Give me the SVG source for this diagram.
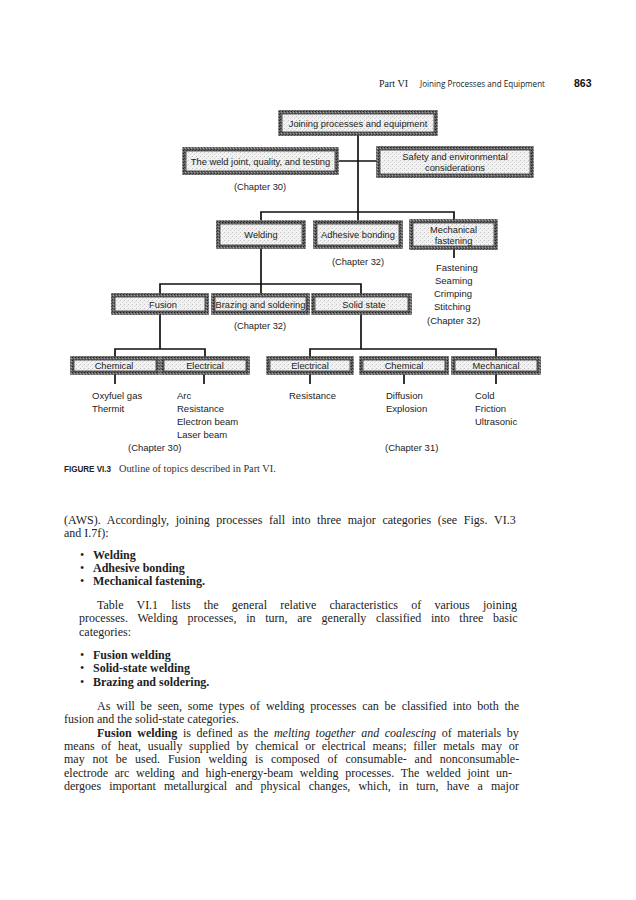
<svg xmlns="http://www.w3.org/2000/svg" width="636" height="900" viewBox="0 0 636 900">
<style>
.bg{fill:#ffffff}
.frame{fill:url(#fillpat);stroke:url(#edgepat);stroke-width:3.6}
.inner{fill:none;stroke:#1a1a1a;stroke-width:0.7}
.lbl{font-family:"Liberation Sans",Arial,sans-serif;font-size:9.3px;fill:#1c1c1c;text-anchor:middle}
.lst{font-family:"Liberation Sans",Arial,sans-serif;font-size:9.5px;fill:#1c1c1c}
.conn{fill:none;stroke:#111;stroke-width:1.7}
.body{font-family:"Liberation Serif","Times New Roman",serif;font-size:12px;fill:#222}
.b{font-weight:bold}
.i{font-style:italic}
.hdr{font-family:"Liberation Serif","Times New Roman",serif;font-size:10px;fill:#222}
</style>
<defs>
<pattern id="fillpat" width="4" height="4" patternUnits="userSpaceOnUse">
<rect width="4" height="4" fill="#f2f2f2"/>
<rect x="0" y="0" width="1" height="1" fill="#c4c4c4"/>
<rect x="2" y="2" width="1" height="1" fill="#d6d6d6"/>
<rect x="3" y="1" width="1" height="1" fill="#e0e0e0"/>
</pattern>
<pattern id="edgepat" width="3" height="3" patternUnits="userSpaceOnUse">
<rect width="3" height="3" fill="#626262"/>
<rect width="1" height="1" fill="#222"/>
<rect x="2" y="1" width="1" height="1" fill="#a0a0a0"/>
<rect x="1" y="2" width="1" height="1" fill="#333"/>
</pattern>
</defs>
<rect class="bg" width="636" height="900"/>

<g id="header">
<text class="hdr" x="379" y="87">Part VI</text>
<text x="420" y="87" font-family="'Open Sans','Liberation Sans',sans-serif" font-size="8.6px" fill="#222" textLength="125" lengthAdjust="spacingAndGlyphs">Joining Processes and Equipment</text>
<text x="574" y="87" font-family="'Liberation Sans',Arial,sans-serif" font-size="10.5px" font-weight="bold" fill="#111">863</text>
</g>

<g id="connectors">
<path class="conn" d="M358 133 V222"/>
<path class="conn" d="M337 161 H378"/>
<path class="conn" d="M261 222 V212 H454 V221"/>
<path class="conn" d="M454 248 V258"/>
<path class="conn" d="M261 247 V295"/>
<path class="conn" d="M160 295 V284 H361 V295"/>
<path class="conn" d="M160 313 V349"/>
<path class="conn" d="M115 358 V349 H205 V358"/>
<path class="conn" d="M361 313 V349"/>
<path class="conn" d="M310 358 V349 H496 V358"/>
<path class="conn" d="M115 373 V384"/>
<path class="conn" d="M204 373 V384"/>
<path class="conn" d="M310 373 V384"/>
<path class="conn" d="M404 373 V384"/>
<path class="conn" d="M496 373 V384"/>
</g>

<g id="n-joining">
<rect class="frame" x="280" y="112" width="156" height="22"/>
<rect class="inner" x="282" y="114" width="152" height="18"/>
<text class="lbl" x="358" y="127">Joining processes and equipment</text>
</g>
<g id="n-weldjoint">
<rect class="frame" x="184" y="149" width="153" height="24"/>
<rect class="inner" x="186" y="151" width="149" height="20"/>
<text class="lbl" x="260.5" y="164.5">The weld joint, quality, and testing</text>
</g>
<text class="lbl" x="260" y="190">(Chapter 30)</text>
<g id="n-safety">
<rect class="frame" x="378" y="148" width="154" height="28"/>
<rect class="inner" x="380" y="150" width="150" height="24"/>
<text class="lbl" x="455" y="159.5">Safety and environmental</text>
<text class="lbl" x="455" y="171">considerations</text>
</g>

<g id="n-welding">
<rect class="frame" x="218" y="222" width="86" height="25"/>
<rect class="inner" x="220" y="224" width="82" height="21"/>
<text class="lbl" x="261" y="238">Welding</text>
</g>
<g id="n-adhesive">
<rect class="frame" x="315" y="222" width="86" height="25"/>
<rect class="inner" x="317" y="224" width="82" height="21"/>
<text class="lbl" x="358" y="238">Adhesive bonding</text>
</g>
<text class="lbl" x="358" y="265">(Chapter 32)</text>
<g id="n-mechfast">
<rect class="frame" x="411" y="221" width="85" height="27"/>
<rect class="inner" x="413" y="223" width="81" height="23"/>
<text class="lbl" x="453.5" y="232.5">Mechanical</text>
<text class="lbl" x="453.5" y="244">fastening</text>
</g>
<g id="mech-list">
<text class="lst" x="436" y="271">Fastening</text>
<text class="lst" x="435" y="284">Seaming</text>
<text class="lst" x="434" y="297">Crimping</text>
<text class="lst" x="434" y="310">Stitching</text>
<text class="lst" x="427" y="324">(Chapter 32)</text>
</g>

<g id="n-fusion">
<rect class="frame" x="113" y="295" width="94" height="18"/>
<rect class="inner" x="115" y="297" width="90" height="14"/>
<text class="lbl" x="163" y="307.5">Fusion</text>
</g>
<g id="n-brazing">
<rect class="frame" x="213" y="295" width="95" height="18"/>
<rect class="inner" x="215" y="297" width="91" height="14"/>
<text class="lbl" x="260.5" y="307.5">Brazing and soldering</text>
</g>
<text class="lbl" x="260" y="329">(Chapter 32)</text>
<g id="n-solid">
<rect class="frame" x="313" y="295" width="97" height="18"/>
<rect class="inner" x="315" y="297" width="93" height="14"/>
<text class="lbl" x="364" y="307.5">Solid state</text>
</g>

<g id="n-chem1">
<rect class="frame" x="72" y="358" width="86" height="15"/>
<rect class="inner" x="74" y="360" width="82" height="11"/>
<text class="lbl" x="114" y="369">Chemical</text>
</g>
<g id="n-elec1">
<rect class="frame" x="162" y="358" width="86" height="15"/>
<rect class="inner" x="164" y="360" width="82" height="11"/>
<text class="lbl" x="205" y="369">Electrical</text>
</g>
<g id="n-elec2">
<rect class="frame" x="268" y="358" width="84" height="15"/>
<rect class="inner" x="270" y="360" width="80" height="11"/>
<text class="lbl" x="310" y="369">Electrical</text>
</g>
<g id="n-chem2">
<rect class="frame" x="361" y="358" width="86" height="15"/>
<rect class="inner" x="363" y="360" width="82" height="11"/>
<text class="lbl" x="404" y="369">Chemical</text>
</g>
<g id="n-mech2">
<rect class="frame" x="453" y="358" width="86" height="15"/>
<rect class="inner" x="455" y="360" width="82" height="11"/>
<text class="lbl" x="496" y="369">Mechanical</text>
</g>

<g id="lists">
<text class="lst" x="92" y="399">Oxyfuel gas</text>
<text class="lst" x="92" y="412">Thermit</text>
<text class="lst" x="177" y="399">Arc</text>
<text class="lst" x="177" y="412">Resistance</text>
<text class="lst" x="177" y="425">Electron beam</text>
<text class="lst" x="177" y="438">Laser beam</text>
<text class="lst" x="128" y="451">(Chapter 30)</text>
<text class="lst" x="289" y="399">Resistance</text>
<text class="lst" x="386" y="399">Diffusion</text>
<text class="lst" x="386" y="412">Explosion</text>
<text class="lst" x="475" y="399">Cold</text>
<text class="lst" x="475" y="412">Friction</text>
<text class="lst" x="475" y="425">Ultrasonic</text>
<text class="lst" x="385" y="451">(Chapter 31)</text>
</g>

<g id="caption">
<text x="64" y="472" font-family="'Liberation Sans',Arial,sans-serif" font-size="8.4px" font-weight="bold" fill="#222" textLength="47" lengthAdjust="spacingAndGlyphs">FIGURE VI.3</text>
<text x="119" y="472" font-family="'Liberation Serif','Times New Roman',serif" font-size="10.3px" fill="#333">Outline of topics described in Part VI.</text>
</g>

<g id="bodytext">
<text class="body" x="64" y="524" word-spacing="3.7">(AWS). Accordingly, joining processes fall into three major categories (see Figs. VI.3</text>
<text class="body" x="64" y="537">and I.7f):</text>
<text class="body" x="80" y="559">•</text><text class="body b" x="93" y="559">Welding</text>
<text class="body" x="80" y="572">•</text><text class="body b" x="93" y="572">Adhesive bonding</text>
<text class="body" x="80" y="585">•</text><text class="body b" x="93" y="585">Mechanical fastening.</text>
<text class="body" x="97" y="609" word-spacing="10.2">Table VI.1 lists the general relative characteristics of various joining</text>
<text class="body" x="79" y="622" word-spacing="6.7">processes. Welding processes, in turn, are generally classified into three basic</text>
<text class="body" x="79" y="636">categories:</text>
<text class="body" x="80" y="659">•</text><text class="body b" x="93" y="659">Fusion welding</text>
<text class="body" x="80" y="672">•</text><text class="body b" x="93" y="672">Solid-state welding</text>
<text class="body" x="80" y="686">•</text><text class="body b" x="93" y="686">Brazing and soldering.</text>
<text class="body" x="97" y="710" word-spacing="2.8">As will be seen, some types of welding processes can be classified into both the</text>
<text class="body" x="64" y="723">fusion and the solid-state categories.</text>
<text class="body" x="97" y="737" word-spacing="2.6"><tspan class="b">Fusion welding</tspan> is defined as the <tspan class="i">melting together and coalescing</tspan> of materials by</text>
<text class="body" x="64" y="750" word-spacing="3.7">means of heat, usually supplied by chemical or electrical means; filler metals may or</text>
<text class="body" x="64" y="763" word-spacing="4.9">may not be used. Fusion welding is composed of consumable- and nonconsumable-</text>
<text class="body" x="64" y="777" word-spacing="3.7">electrode arc welding and high-energy-beam welding processes. The welded joint un-</text>
<text class="body" x="64" y="790" word-spacing="5.1">dergoes important metallurgical and physical changes, which, in turn, have a major</text>
</g>
</svg>
